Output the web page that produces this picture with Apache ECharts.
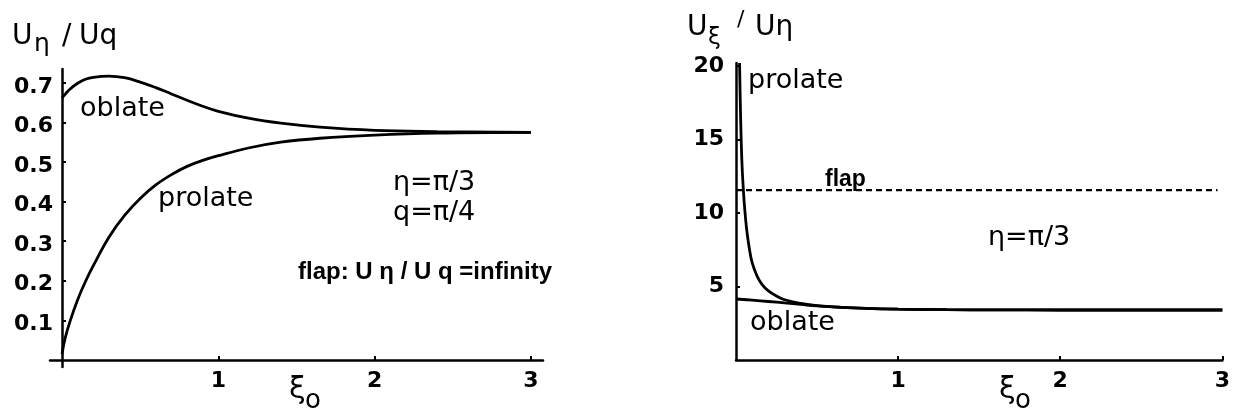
<!DOCTYPE html>
<html>
<head>
<meta charset="utf-8">
<script src="https://cdn.jsdelivr.net/npm/echarts@6/dist/echarts.min.js"></script>
<style>
  html, body { margin: 0; padding: 0; background: #fff; }
  #chart { width: 1233px; height: 412px; }
</style>
</head>
<body>
<div id="chart"></div>
<script>
// ---- Left panel: U_eta / U_q versus xi_0 (eta = pi/3, q = pi/4) ----
const leftXi      = [0, 0.02, 0.05, 0.1, 0.15, 0.2, 0.3, 0.4, 0.5, 0.6, 0.7, 0.8, 0.9, 1.0, 1.2, 1.4, 1.65, 2.0, 2.4, 3.0];
const leftOblate  = [0.662, 0.671, 0.684, 0.699, 0.709, 0.714, 0.717, 0.713, 0.702, 0.688, 0.672, 0.656, 0.641, 0.628, 0.610, 0.598, 0.588, 0.580, 0.577, 0.575];
const leftProlate = [0.015, 0.055, 0.096, 0.152, 0.198, 0.238, 0.310, 0.365, 0.408, 0.442, 0.468, 0.489, 0.504, 0.516, 0.536, 0.550, 0.560, 0.568, 0.573, 0.575];
const leftXTicks  = [1, 2, 3];
const leftYTicks  = [0.1, 0.2, 0.3, 0.4, 0.5, 0.6, 0.7];

// ---- Right panel: U_xi / U_eta versus xi_0 (eta = pi/3) ----
const rightOblateXi  = [0, 0.1, 0.2, 0.3, 0.4, 0.5, 0.65, 0.8, 1.0, 1.3, 1.6, 2.0, 3.0];
const rightOblate    = [4.15, 4.07, 3.98, 3.88, 3.78, 3.68, 3.58, 3.51, 3.46, 3.42, 3.41, 3.40, 3.40];
const rightProlateXi = [0.022, 0.026, 0.03, 0.035, 0.04, 0.05, 0.06, 0.07, 0.085, 0.1, 0.13, 0.16, 0.2, 0.25, 0.3, 0.4, 0.5, 0.65, 0.8, 1.0, 1.3, 1.6, 2.0, 3.0];
const rightProlate   = [20.2, 17.8, 15.8, 13.9, 12.6, 10.8, 9.5, 8.5, 7.4, 6.6, 5.7, 5.15, 4.7, 4.35, 4.1, 3.85, 3.7, 3.58, 3.51, 3.46, 3.42, 3.41, 3.40, 3.40];
const flapXi         = [0, 2.97];
const flapValue      = [11.55, 11.55];
const rightXTicks    = [1, 2, 3];
const rightYTicks    = [5, 10, 15, 20];

const zip = (xs, ys) => xs.map((x, i) => [x, ys[i]]);

const INK = '#000';
const TEXT_FONT = 'DejaVu Sans';
const NUM_FONT = 'DejaVu Sans';
const NOTE_FONT = 'Liberation Sans';

function curve(xi, yi, data, extra) {
  return Object.assign({
    type: 'line',
    xAxisIndex: xi,
    yAxisIndex: yi,
    data: data,
    showSymbol: false,
    smooth: 0.4,
    lineStyle: { color: INK, width: 2.8 },
    silent: true
  }, extra || {});
}

function xAxisCfg(grid, min, max, ticks, margin) {
  return {
    type: 'value', gridIndex: grid, min: min, max: max,
    axisLine: { show: true, onZero: true, lineStyle: { color: INK, width: 2.5 } },
    axisTick: { show: true, inside: true, length: 4, customValues: ticks, lineStyle: { color: INK, width: 2 } },
    axisLabel: {
      customValues: ticks, margin: margin, color: INK,
      fontFamily: NUM_FONT, fontWeight: 'bold', fontSize: 22,
      formatter: v => String(Math.round(v))
    },
    splitLine: { show: false }
  };
}

function yAxisCfg(grid, min, max, ticks, margin, drop, fmt) {
  return {
    type: 'value', gridIndex: grid, min: min, max: max,
    axisLine: { show: true, onZero: true, lineStyle: { color: INK, width: 2.5 } },
    axisTick: { show: true, inside: true, length: 4, customValues: ticks, lineStyle: { color: INK, width: 2 } },
    axisLabel: {
      customValues: ticks, margin: margin, color: INK,
      formatter: v => '{n|' + fmt(v) + '}',
      rich: {
        n: {
          fontFamily: NUM_FONT, fontWeight: 'bold', fontSize: 22, color: INK,
          padding: [drop, 0, 0, 0]
        }
      }
    },
    splitLine: { show: false }
  };
}

function label(text, x, y, size, opts) {
  opts = opts || {};
  return {
    type: 'text', x: x, y: y, silent: true,
    style: {
      text: text,
      fill: INK,
      fontFamily: opts.family || TEXT_FONT,
      fontSize: size,
      fontWeight: opts.weight || 'normal',
      align: opts.align || 'left', textAlign: opts.align || 'left',
      verticalAlign: 'middle', textVerticalAlign: 'middle'
    }
  };
}

const chart = echarts.init(document.getElementById('chart'), null, { renderer: 'canvas' });

chart.setOption({
  backgroundColor: '#fff',
  animation: false,
  grid: [
    { left: 50, top: 69, width: 493, height: 298 },
    { left: 736, top: 63, width: 490, height: 297 }
  ],
  xAxis: [
    xAxisCfg(0, -0.077, 3.077, leftXTicks, 3),
    xAxisCfg(1, 0, 3, rightXTicks, 10)
  ],
  yAxis: [
    yAxisCfg(0, -0.018, 0.735, leftYTicks, -3, 8, v => v.toFixed(1)),
    yAxisCfg(1, 0, 20.2, rightYTicks, 12, 0, v => String(Math.round(v)))
  ],
  series: [
    curve(0, 0, zip(leftXi, leftOblate)),
    curve(0, 0, zip(leftXi, leftProlate)),
    curve(1, 1, zip(rightOblateXi, rightOblate)),
    curve(1, 1, zip(rightProlateXi, rightProlate)),
    curve(1, 1, zip(flapXi, flapValue), { smooth: false, lineStyle: { color: INK, width: 2.2, type: [6, 4] } })
  ],
  graphic: [
    // left panel: axis titles
    label('U', 12, 37, 28),
    label('η', 34, 44, 25),
    label('/', 62, 37, 28),
    label('Uq', 79, 37, 28),
    label('ξ', 289, 390, 30),
    label('o', 305, 401, 26),
    // left panel: annotations
    label('oblate', 80, 109, 27),
    label('prolate', 158, 199, 27),
    label('η=π/3', 393, 183, 27),
    label('q=π/4', 393, 213, 27),
    label('flap: U η / U q =infinity', 298, 272, 24, { family: NOTE_FONT, weight: 'bold' }),

    // right panel: axis titles
    label('U', 687, 28, 28),
    label('ξ', 708, 38, 23),
    label('/', 737, 20, 22),
    label('Uη', 755, 28, 28),
    label('ξ', 999, 390, 30),
    label('o', 1015, 401, 26),
    // right panel: annotations
    label('prolate', 748, 81, 27),
    label('flap', 825, 180, 23, { family: NOTE_FONT, weight: 'bold' }),
    label('η=π/3', 988, 238, 27),
    label('oblate', 750, 323, 27)
  ]
});
</script>
</body>
</html>
